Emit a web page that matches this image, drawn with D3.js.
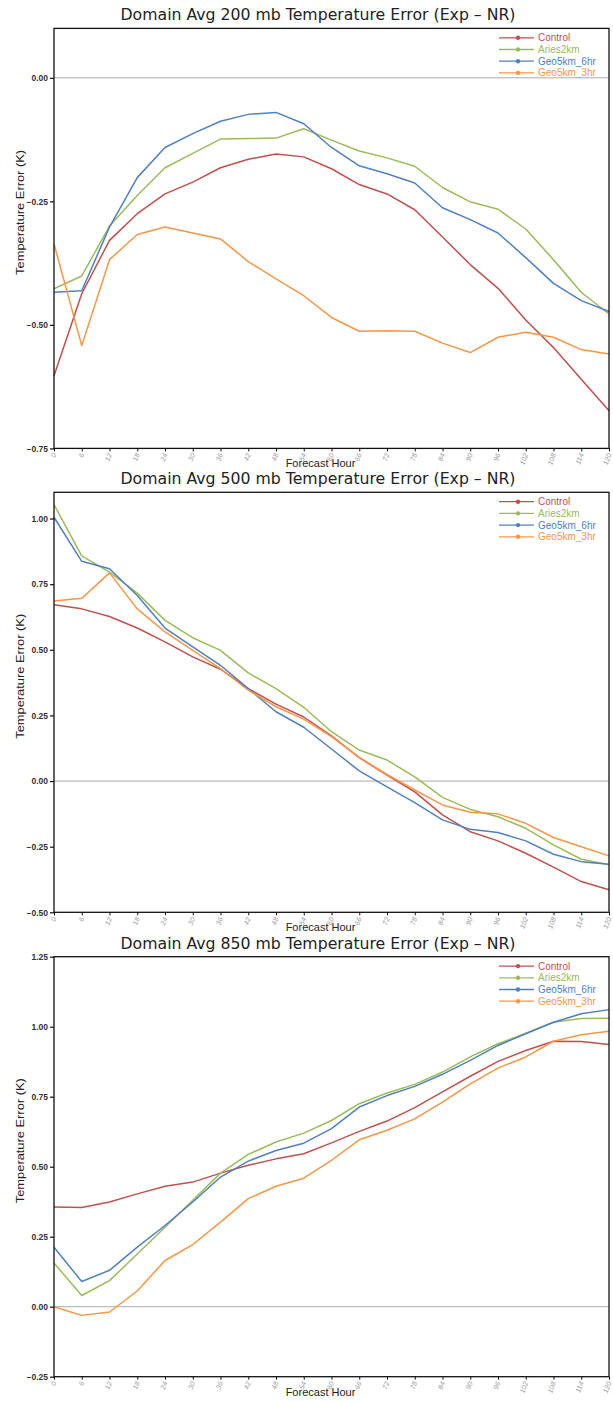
<!DOCTYPE html>
<html>
<head>
<meta charset="utf-8">
<script src="https://cdn.jsdelivr.net/npm/d3@7"></script>
<style>
  html, body { margin: 0; padding: 0; background: #fff; }
  svg { display: block; }
</style>
</head>
<body>
<div id="chart"></div>
<script>
// Forecast hours on the x axis
const hours = d3.range(0, 121, 6);

const seriesNames = ["Control", "Aries2km", "Geo5km_6hr", "Geo5km_3hr"];
const seriesColors = ["#c0504d", "#9bbb59", "#4f81bd", "#f79646"];

// 200 mb domain-average temperature error (K)
const control200 = [-0.603, -0.437, -0.329, -0.275, -0.235, -0.211, -0.182, -0.165, -0.154, -0.160, -0.184, -0.216, -0.235, -0.267, -0.322, -0.378, -0.426, -0.490, -0.546, -0.610, -0.674];
const aries200   = [-0.427, -0.401, -0.300, -0.238, -0.182, -0.153, -0.124, -0.123, -0.122, -0.103, -0.126, -0.148, -0.162, -0.179, -0.222, -0.251, -0.266, -0.306, -0.368, -0.434, -0.478];
const geo6hr200  = [-0.434, -0.431, -0.302, -0.202, -0.141, -0.113, -0.088, -0.074, -0.070, -0.093, -0.141, -0.178, -0.194, -0.213, -0.263, -0.287, -0.314, -0.364, -0.416, -0.451, -0.473];
const geo3hr200  = [-0.336, -0.542, -0.368, -0.317, -0.302, -0.314, -0.326, -0.372, -0.407, -0.441, -0.485, -0.513, -0.512, -0.513, -0.537, -0.556, -0.525, -0.515, -0.525, -0.550, -0.559];

// 500 mb
const control500 = [0.672, 0.656, 0.627, 0.583, 0.530, 0.473, 0.426, 0.352, 0.293, 0.244, 0.172, 0.089, 0.023, -0.041, -0.129, -0.193, -0.228, -0.275, -0.328, -0.383, -0.414];
const aries500   = [1.053, 0.858, 0.796, 0.716, 0.612, 0.546, 0.498, 0.412, 0.352, 0.281, 0.188, 0.118, 0.080, 0.016, -0.062, -0.108, -0.136, -0.180, -0.243, -0.298, -0.319];
const geo6hr500  = [1.005, 0.837, 0.809, 0.707, 0.583, 0.511, 0.441, 0.352, 0.264, 0.205, 0.122, 0.039, -0.022, -0.082, -0.148, -0.184, -0.196, -0.228, -0.279, -0.307, -0.317];
const geo3hr500  = [0.686, 0.696, 0.793, 0.656, 0.568, 0.498, 0.428, 0.346, 0.283, 0.236, 0.169, 0.090, 0.025, -0.034, -0.091, -0.119, -0.125, -0.161, -0.215, -0.250, -0.285];

// 850 mb
const control850 = [0.356, 0.354, 0.374, 0.403, 0.430, 0.445, 0.477, 0.505, 0.528, 0.546, 0.585, 0.626, 0.663, 0.711, 0.767, 0.823, 0.876, 0.915, 0.948, 0.947, 0.936];
const aries850   = [0.156, 0.040, 0.093, 0.188, 0.284, 0.380, 0.477, 0.544, 0.588, 0.620, 0.665, 0.725, 0.763, 0.794, 0.838, 0.892, 0.939, 0.977, 1.016, 1.029, 1.030];
const geo6hr850  = [0.212, 0.090, 0.130, 0.213, 0.290, 0.374, 0.463, 0.520, 0.558, 0.584, 0.636, 0.713, 0.754, 0.787, 0.830, 0.880, 0.933, 0.975, 1.016, 1.046, 1.061];
const geo3hr850  = [0.000, -0.031, -0.019, 0.056, 0.165, 0.222, 0.302, 0.386, 0.430, 0.459, 0.523, 0.596, 0.630, 0.671, 0.731, 0.796, 0.852, 0.892, 0.948, 0.971, 0.984];

// Panel definitions: title, y range and ticks
const titles = [
  "Domain Avg 200 mb Temperature Error (Exp \u2013 NR)",
  "Domain Avg 500 mb Temperature Error (Exp \u2013 NR)",
  "Domain Avg 850 mb Temperature Error (Exp \u2013 NR)"
];
const yDomains = [[-0.75, 0.10], [-0.50, 1.10], [-0.25, 1.25]];
const yTicks = [
  [-0.75, -0.50, -0.25, 0.00],
  [-0.50, -0.25, 0.00, 0.25, 0.50, 0.75, 1.00],
  [-0.25, 0.00, 0.25, 0.50, 0.75, 1.00, 1.25]
];
const panelSeries = [
  [control200, aries200, geo6hr200, geo3hr200],
  [control500, aries500, geo6hr500, geo3hr500],
  [control850, aries850, geo6hr850, geo3hr850]
];

const W = 613, H = 1402;
const svg = d3.select("#chart").append("svg")
  .attr("width", W).attr("height", H)
  .attr("viewBox", `0 0 ${W} ${H}`);

const left = 54, right = 609;
const panelTops = [28.4, 492.3, 956.7];
const plotH = 420;

const x = d3.scaleLinear().domain([0, 120]).range([left, right]);
const fmt = v => (v < 0 ? "\u2212" : "") + Math.abs(v).toFixed(2);

panelTops.forEach((top, p) => {
  const bottom = top + plotH;
  const y = d3.scaleLinear().domain(yDomains[p]).range([bottom, top]);
  const g = svg.append("g");

  // title
  g.append("text")
    .attr("x", 318)
    .attr("y", top - 8)
    .attr("text-anchor", "middle")
    .attr("font-family", "DejaVu Sans, sans-serif")
    .attr("font-size", 16)
    .attr("fill", "#222")
    .attr("textLength", 395)
    .attr("lengthAdjust", "spacingAndGlyphs")
    .text(titles[p]);

  // zero reference line
  g.append("line")
    .attr("x1", left).attr("x2", right)
    .attr("y1", y(0)).attr("y2", y(0))
    .attr("stroke", "#aaa").attr("stroke-width", 1);

  // y axis
  const yAxis = g.append("g")
    .attr("transform", `translate(${left},0)`)
    .call(d3.axisLeft(y).tickValues(yTicks[p]).tickSize(4).tickPadding(2).tickFormat(fmt));
  yAxis.select(".domain").remove();
  yAxis.selectAll(".tick line").attr("stroke", "#111").attr("stroke-width", 1.2);
  yAxis.selectAll(".tick text")
    .attr("font-family", "Liberation Sans, Arial, sans-serif")
    .attr("font-size", 8.5)
    .attr("font-weight", "bold")
    .attr("fill", "#333");

  // x axis
  const xAxis = g.append("g")
    .attr("transform", `translate(0,${bottom})`)
    .call(d3.axisBottom(x).tickValues(hours).tickSize(3).tickFormat(d => d));
  xAxis.select(".domain").remove();
  xAxis.selectAll(".tick line").attr("stroke", "#111").attr("stroke-width", 1);
  xAxis.selectAll(".tick text")
    .attr("font-family", "Liberation Sans, Arial, sans-serif")
    .attr("font-size", 7)
    .attr("font-style", "italic")
    .attr("fill", "#999")
    .attr("text-anchor", "end")
    .attr("dy", null)
    .attr("y", 0)
    .attr("transform", "translate(2,6) rotate(-70)");

  // x axis title
  g.append("text")
    .attr("x", (left + right) / 2 - 11)
    .attr("y", bottom + 19)
    .attr("text-anchor", "middle")
    .attr("font-family", "Liberation Sans, Arial, sans-serif")
    .attr("font-size", 11)
    .attr("fill", "#222")
    .text("Forecast Hour");

  // y axis title
  g.append("text")
    .attr("transform", `translate(24,${(top + bottom) / 2 - 26}) rotate(-90)`)
    .attr("text-anchor", "middle")
    .attr("font-family", "Liberation Sans, Arial, sans-serif")
    .attr("font-size", 11)
    .attr("fill", "#222")
    .attr("textLength", 125)
    .attr("lengthAdjust", "spacingAndGlyphs")
    .text("Temperature Error (K)");

  // series lines
  const line = d3.line().x((d, i) => x(hours[i])).y(d => y(d));
  panelSeries[p].forEach((vals, s) => {
    g.append("path")
      .datum(vals)
      .attr("fill", "none")
      .attr("stroke", seriesColors[s])
      .attr("stroke-width", 1.5)
      .attr("stroke-linejoin", "round")
      .attr("d", line);
  });

  // frame
  g.append("rect")
    .attr("x", left).attr("y", top)
    .attr("width", right - left).attr("height", plotH)
    .attr("fill", "none").attr("stroke", "#111").attr("stroke-width", 1.3);

  // legend
  const lg = g.append("g");
  seriesNames.forEach((name, s) => {
    const ly = top + 9.4 + s * 11.7;
    lg.append("line")
      .attr("x1", 499).attr("x2", 534).attr("y1", ly).attr("y2", ly)
      .attr("stroke", seriesColors[s]).attr("stroke-width", 1.3);
    lg.append("circle")
      .attr("cx", 518).attr("cy", ly).attr("r", 2.2)
      .attr("fill", seriesColors[s]);
    lg.append("text")
      .attr("x", 538).attr("y", ly + 3.5)
      .attr("font-family", "Liberation Sans, Arial, sans-serif")
      .attr("font-size", 10)
      .attr("fill", seriesColors[s])
      .text(name);
  });
});
</script>
</body>
</html>
